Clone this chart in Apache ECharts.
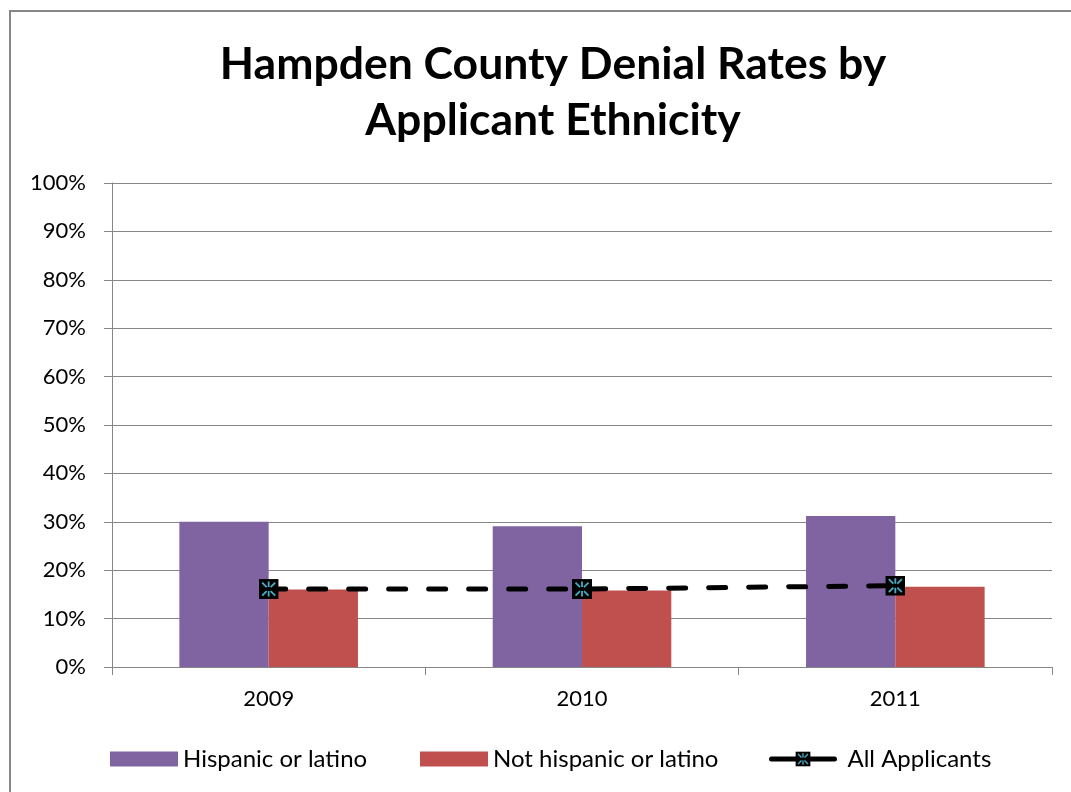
<!DOCTYPE html>
<html>
<head>
<meta charset="utf-8">
<script src="https://cdn.jsdelivr.net/npm/echarts@6/dist/echarts.min.js"></script>
<style>
html,body{margin:0;padding:0;background:#fff;}
#chart{width:1071px;height:792px;}
</style>
</head>
<body>
<div id="chart"></div>
<script>
const categories = ['2009', '2010', '2011'];
const hispanic = [30.0, 29.1, 31.2];
const notHispanic = [16.0, 15.8, 16.6];
const allApplicants = [16.1, 16.1, 16.8];
const seriesNames = ['Hispanic or latino', 'Not hispanic or latino', 'All Applicants'];
const titleText = 'Hampden County Denial Rates by\nApplicant Ethnicity';

const FONT = 'Lato, "Liberation Sans", sans-serif';
const svg = '<svg xmlns="http://www.w3.org/2000/svg" width="20" height="20" viewBox="0 0 20 20">' +
  '<rect x="0" y="0" width="20" height="20" fill="#000"/>' +
  '<g stroke="#4BACC6" stroke-width="1.8" stroke-linecap="butt">' +
  '<line x1="3.5" y1="3.5" x2="8" y2="8"/><line x1="16.5" y1="3.5" x2="12" y2="8"/>' +
  '<line x1="3.5" y1="16.5" x2="8" y2="12"/><line x1="16.5" y1="16.5" x2="12" y2="12"/>' +
  '<line x1="10" y1="2.5" x2="10" y2="8"/><line x1="10" y1="12" x2="10" y2="17.5"/>' +
  '</g></svg>';
const markerSymbol = 'image://data:image/svg+xml;charset=utf-8,' + encodeURIComponent(svg);

const legendText = {fontFamily: FONT, fontSize: 24, color: '#000'};
const chart = echarts.init(document.getElementById('chart'), null, {renderer: 'canvas'});
chart.setOption({
  backgroundColor: '#fff',
  animation: false,
  title: {
    text: titleText,
    left: 548,
    textAlign: 'center',
    top: 32,
    textStyle: {fontFamily: FONT, fontWeight: 'bold', fontSize: 44.5, lineHeight: 56, color: '#000'}
  },
  graphic: [{
    type: 'rect',
    shape: {x: 10, y: 11, width: 1200, height: 1000},
    style: {fill: 'none', stroke: '#868686', lineWidth: 2},
    silent: true
  }],
  grid: {left: 112, right: 19, top: 183, bottom: 125},
  legend: [
    {left: 110, top: 747, padding: 0, itemWidth: 68, itemHeight: 15, icon: 'rect',
     textStyle: legendText, data: [seriesNames[0]]},
    {left: 420, top: 747, padding: 0, itemWidth: 68, itemHeight: 15, icon: 'rect',
     textStyle: legendText, data: [seriesNames[1]]},
    {left: 769, top: 747, padding: 0, itemWidth: 63, itemHeight: 19,
     lineStyle: {width: 5, type: 'solid', color: '#000'},
     textStyle: Object.assign({padding: [0, 0, 0, 8]}, legendText), data: [seriesNames[2]]}
  ],
  xAxis: {
    type: 'category',
    data: categories,
    axisLine: {lineStyle: {color: '#868686', width: 1}},
    axisTick: {show: true, length: 8, lineStyle: {color: '#868686'}},
    axisLabel: {fontFamily: FONT, fontSize: 22, color: '#000', margin: 21}
  },
  yAxis: {
    type: 'value',
    min: 0,
    max: 100,
    interval: 10,
    axisLine: {show: true, lineStyle: {color: '#868686', width: 1}},
    axisTick: {show: true, length: 8, lineStyle: {color: '#868686'}},
    axisLabel: {fontFamily: FONT, fontSize: 22, color: '#000', margin: 26, formatter: '{value}%'},
    splitLine: {lineStyle: {color: '#868686', width: 1}}
  },
  series: [
    {
      name: seriesNames[0], type: 'bar', data: hispanic,
      itemStyle: {color: '#8064A2'}, barGap: '0%', barCategoryGap: '43%'
    },
    {
      name: seriesNames[1], type: 'bar', data: notHispanic,
      itemStyle: {color: '#C0504D'}
    },
    {
      name: seriesNames[2], type: 'line', data: allApplicants,
      symbol: markerSymbol, symbolSize: 20,
      lineStyle: {color: '#000', width: 5, type: [17, 23], cap: 'round'},
      itemStyle: {color: '#000'}, z: 5
    }
  ]
});
</script>
</body>
</html>
